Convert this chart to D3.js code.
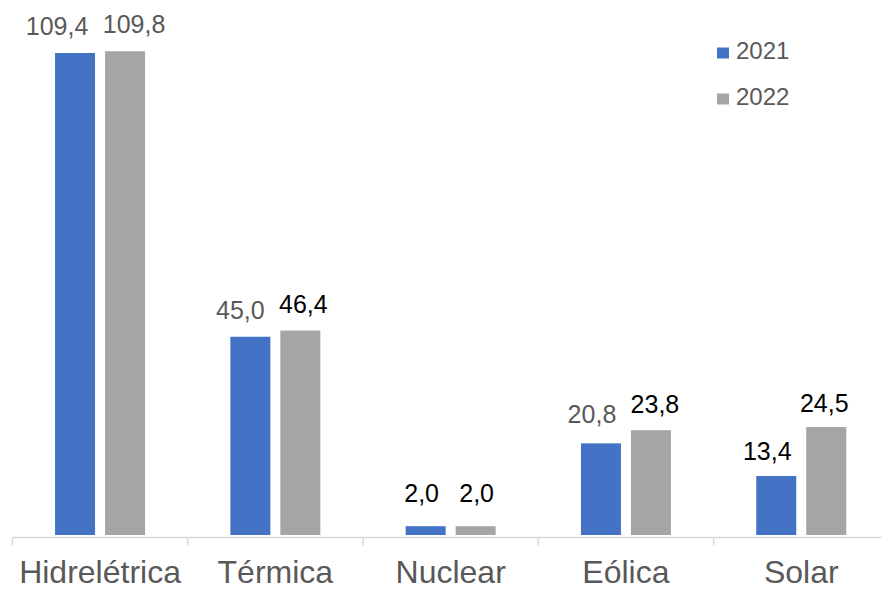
<!DOCTYPE html>
<html><head><meta charset="utf-8">
<script src="https://cdn.jsdelivr.net/npm/d3@7"></script>
<style>html,body{margin:0;padding:0;background:#fff;}svg{display:block;}</style>
</head><body>
<svg id="chart" width="882" height="590"></svg>
<script>
// ---- data ----
const categories = ["Hidrelétrica", "Térmica", "Nuclear", "Eólica", "Solar"];
const seriesNames = ["2021", "2022"];
const values2021 = [109.4, 45.0, 2.0, 20.8, 13.4];
const values2022 = [109.8, 46.4, 2.0, 23.8, 24.5];
// label layout (manual nudges as in the original, in px)
const nudge2021 = [[-18, 0], [-10, 0], [-4, -6], [-9, -2], [-9, 2]];
const nudge2022 = [[9, 0], [3, 0], [1, -6], [4, 1], [-2, 3]];
const darkLabels2021 = [false, false, true, false, true];
const darkLabels2022 = [false, true, true, true, true];

const colors = {"2021": "#4472C4", "2022": "#A5A5A5"};
const fmt = v => v.toFixed(1).replace(".", ",");

const svg = d3.select("#chart");
const baseY = 535;
const x0 = d3.scaleBand().domain(categories).range([12.4, 12.4 + 175.3 * 5]).padding(0);
const groupW = 90;
const x1 = d3.scaleBand().domain(seriesNames).range([0, groupW]).paddingInner(0.2).paddingOuter(0);
const y = d3.scaleLinear().domain([0, 109.4]).range([baseY, 53]);

const rows = categories.map((c, i) => ({
  cat: c,
  vals: [
    {s: "2021", v: values2021[i], n: nudge2021[i], dark: darkLabels2021[i]},
    {s: "2022", v: values2022[i], n: nudge2022[i], dark: darkLabels2022[i]}
  ]
}));

const g = svg.append("g");
const groups = g.selectAll("g.cat").data(rows).join("g")
  .attr("transform", d => `translate(${x0(d.cat) + (x0.bandwidth() - groupW) / 2},0)`);

groups.selectAll("rect").data(d => d.vals).join("rect")
  .attr("x", d => x1(d.s))
  .attr("y", d => y(d.v))
  .attr("width", x1.bandwidth())
  .attr("height", d => baseY - y(d.v))
  .attr("fill", d => colors[d.s]);

groups.selectAll("text.val").data(d => d.vals).join("text")
  .attr("class", "val")
  .attr("x", d => x1(d.s) + x1.bandwidth() / 2 + d.n[0])
  .attr("y", d => y(d.v) - 18 + d.n[1])
  .attr("text-anchor", "middle")
  .attr("font-family", "Liberation Sans, Arial, sans-serif")
  .attr("font-size", 25)
  .attr("fill", d => d.dark ? "#000" : "#595959")
  .text(d => fmt(d.v));

// axis
const axisY = 537.5;
const axisG = svg.append("g").attr("transform", `translate(0,${axisY})`);
const axis = d3.axisBottom(x0).tickSize(0).tickPadding(0);
axisG.call(axis);
axisG.select(".domain").remove();
axisG.append("line").attr("x1", x0.range()[0]).attr("x2", x0.range()[1])
  .attr("y1", 0).attr("y2", 0).attr("stroke", "#d9d9d9").attr("stroke-width", 1.5);
const bounds = categories.map(c => x0(c)).concat([x0.range()[1]]);
axisG.selectAll("line.tk").data(bounds).join("line").attr("class", "tk")
  .attr("x1", d => d).attr("x2", d => d).attr("y1", 0).attr("y2", 8)
  .attr("stroke", "#d9d9d9").attr("stroke-width", 1.5);
axisG.selectAll(".tick text")
  .attr("y", 45.5).attr("dy", 0)
  .attr("font-family", "Liberation Sans, Arial, sans-serif")
  .attr("font-size", 32)
  .attr("fill", "#595959");

// legend
const leg = svg.append("g");
seriesNames.forEach((s, i) => {
  const ly = 59 + i * 46;
  leg.append("rect").attr("x", 717).attr("y", ly - 11.5).attr("width", 12).attr("height", 11).attr("fill", colors[s]);
  leg.append("text").attr("x", 736).attr("y", ly)
    .attr("font-family", "Liberation Sans, Arial, sans-serif")
    .attr("font-size", 24).attr("fill", "#595959").text(s);
});
</script>
</body></html>
